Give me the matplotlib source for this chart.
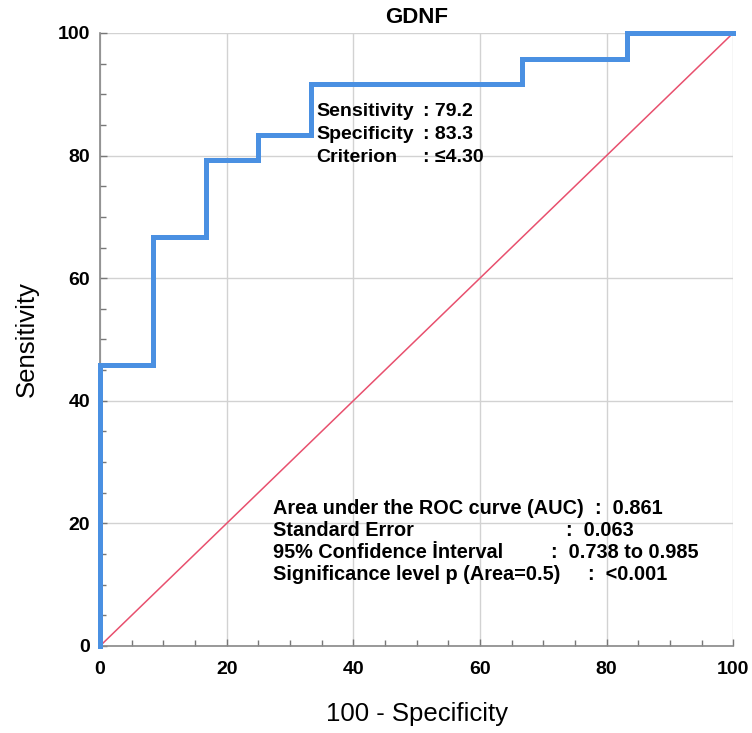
import matplotlib.pyplot as plt
from matplotlib.ticker import MultipleLocator

# ROC curve points (100 - specificity, sensitivity)
fpr = [0, 0, 8.3, 8.3, 16.7, 16.7, 25.0, 25.0, 33.3, 33.3, 66.7, 66.7, 83.3, 83.3, 100]
tpr = [0, 45.8, 45.8, 66.7, 66.7, 79.2, 79.2, 83.3, 83.3, 91.7, 91.7, 95.8, 95.8, 100, 100]
ref_line = [0, 100]

cut_labels = ["Sensitivity", "Specificity", "Criterion"]
cut_values = [": 79.2", ": 83.3", ": \u22644.30"]
stat_labels = ["Area under the ROC curve (AUC)", "Standard Error",
               "95% Confidence \u0130nterval", "Significance level p (Area=0.5)"]
stat_values = [":  0.861", ":  0.063", ":  0.738 to 0.985", ":  <0.001"]

plt.rcParams['font.family'] = ['Liberation Sans', 'DejaVu Sans']

fig = plt.figure(figsize=(7.52, 7.33), dpi=100)
ax = fig.add_axes([0.133, 0.1187, 0.842, 0.8363])

ax.plot(ref_line, ref_line, color='#e8506e', lw=1.1, zorder=3)
ax.plot(fpr, tpr, color='#4a90e2', lw=3.6, solid_joinstyle='miter', zorder=4, clip_on=False)

ax.set_xlim(0, 100)
ax.set_ylim(0, 100)
ax.xaxis.set_major_locator(MultipleLocator(20))
ax.yaxis.set_major_locator(MultipleLocator(20))
ax.xaxis.set_minor_locator(MultipleLocator(5))
ax.yaxis.set_minor_locator(MultipleLocator(5))
ax.grid(True, which='major', color='#d2d2d2', lw=1.0, zorder=0)
ax.set_axisbelow(True)
ax.tick_params(which='both', direction='in', color='#777777', width=1)
ax.tick_params(which='major', length=5, labelsize=14)
ax.tick_params(axis='x', which='major', pad=11)
ax.tick_params(axis='y', which='major', pad=7)
ax.tick_params(which='minor', length=4)
for lab in ax.get_xticklabels() + ax.get_yticklabels():
    lab.set_fontweight('bold')

for side in ['top', 'right']:
    ax.spines[side].set_visible(False)
for side in ['left', 'bottom']:
    ax.spines[side].set_color('#888888')
    ax.spines[side].set_linewidth(1.2)

ax.set_title("GDNF", fontsize=16, fontweight='bold', pad=7)
ax.set_xlabel("100 - Specificity", fontsize=18.5, labelpad=17)
ax.set_ylabel("Sensitivity", fontsize=18.5, labelpad=14)

cut_y = [87.2, 83.4, 79.7]
for lab, val, y in zip(cut_labels, cut_values, cut_y):
    ax.text(34.1, y, lab, fontsize=14, fontweight='bold', va='center', ha='left')
    ax.text(51.0, y, val, fontsize=14, fontweight='bold', va='center', ha='left')

stat_y = [22.4, 18.9, 15.3, 11.7]
val_x = [78.1, 73.6, 71.2, 77.0]
for lab, val, y, vx in zip(stat_labels, stat_values, stat_y, val_x):
    ax.text(27.3, y, lab, fontsize=14.3, fontweight='bold', va='center', ha='left')
    ax.text(vx, y, val, fontsize=14.3, fontweight='bold', va='center', ha='left')

fig.savefig("out.png", dpi=100)
